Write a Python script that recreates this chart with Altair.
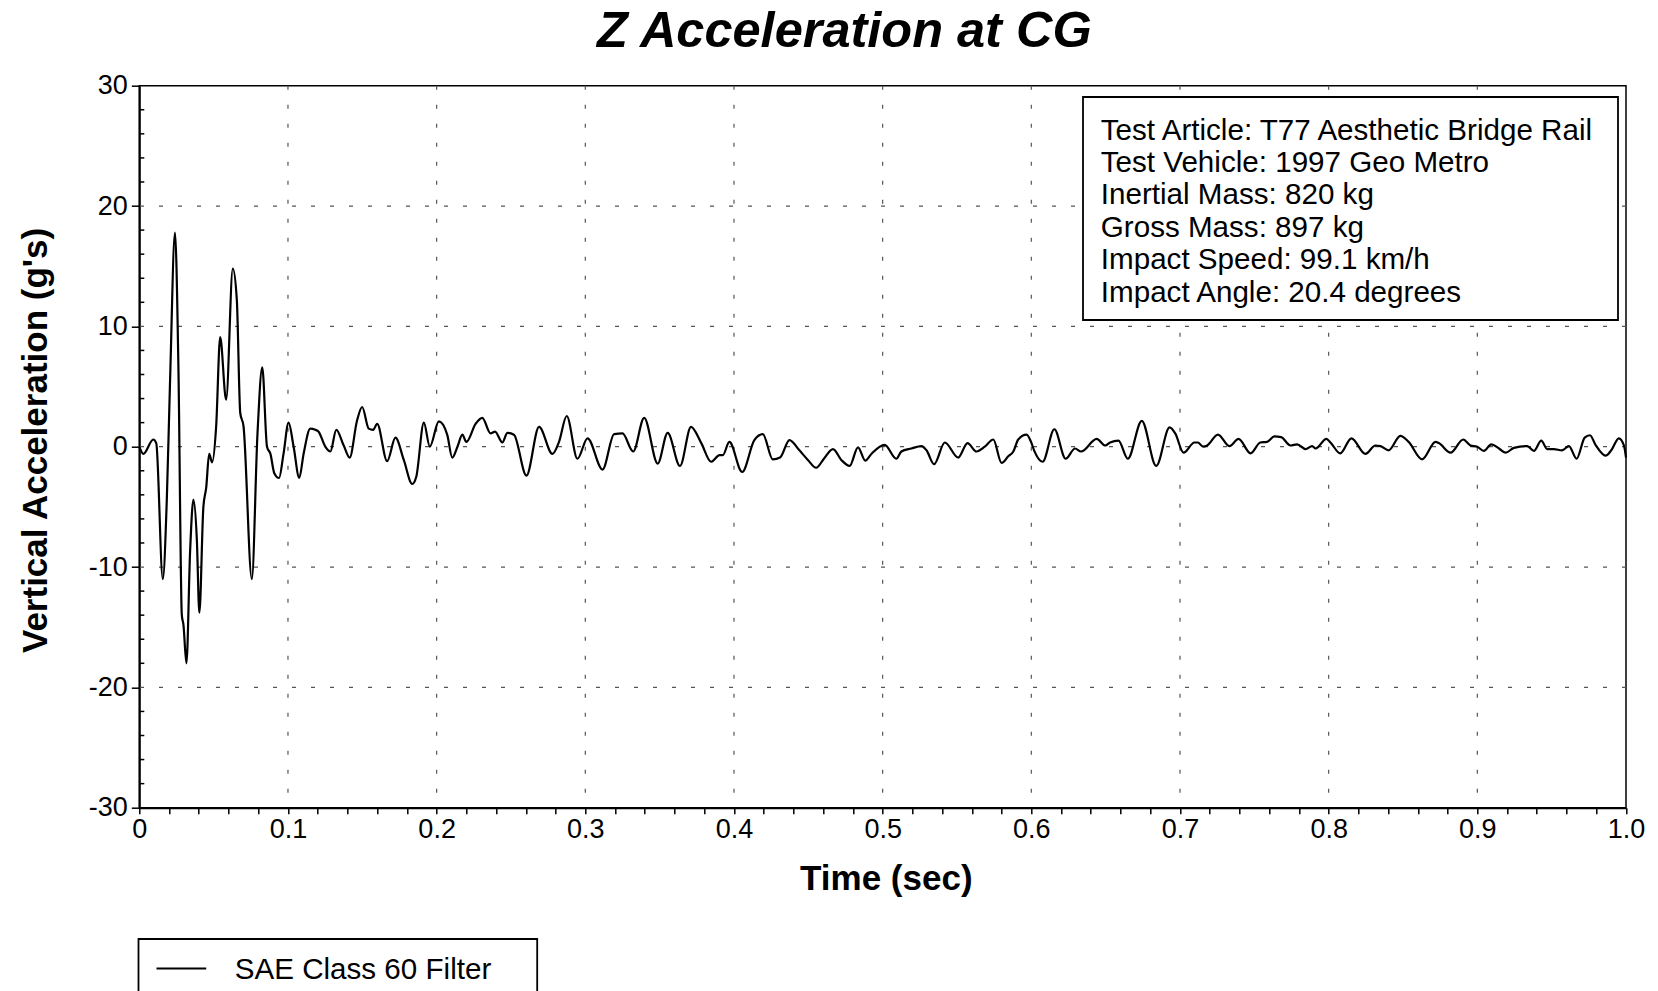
import altair as alt
import pandas as pd

# ---------------- data ----------------
time_s = [
    0.0000, 0.0027, 0.0094, 0.0114, 0.0158, 0.0185, 0.0207, 0.0240, 0.0263, 0.0286,
    0.0297, 0.0317, 0.0342, 0.0364, 0.0387, 0.0404, 0.0431, 0.0450, 0.0470, 0.0490,
    0.0517, 0.0544, 0.0584, 0.0629, 0.0656, 0.0679, 0.0701, 0.0757, 0.0795, 0.0827,
    0.0859, 0.0882, 0.0908, 0.0940, 0.0970, 0.1004, 0.1038, 0.1076, 0.1105, 0.1150,
    0.1184, 0.1206, 0.1251, 0.1285, 0.1325, 0.1375, 0.1415, 0.1465, 0.1499, 0.1543,
    0.1573, 0.1600, 0.1667, 0.1723, 0.1779, 0.1836, 0.1863, 0.1914, 0.1954, 0.2015,
    0.2071, 0.2105, 0.2140, 0.2173, 0.2200, 0.2262, 0.2307, 0.2363, 0.2393, 0.2442,
    0.2476, 0.2520, 0.2604, 0.2689, 0.2779, 0.2823, 0.2875, 0.2947, 0.3015, 0.3116,
    0.3194, 0.3250, 0.3322, 0.3396, 0.3487, 0.3554, 0.3637, 0.3711, 0.3780, 0.3846,
    0.3903, 0.3925, 0.3969, 0.4055, 0.4137, 0.4194, 0.4261, 0.4310, 0.4373, 0.4440,
    0.4497, 0.4553, 0.4605, 0.4666, 0.4722, 0.4778, 0.4834, 0.4883, 0.4924, 0.5013,
    0.5092, 0.5126, 0.5193, 0.5261, 0.5295, 0.5346, 0.5418, 0.5508, 0.5571, 0.5631,
    0.5687, 0.5744, 0.5800, 0.5845, 0.5879, 0.5912, 0.5968, 0.5998, 0.6020, 0.6076,
    0.6155, 0.6231, 0.6294, 0.6335, 0.6440, 0.6497, 0.6530, 0.6586, 0.6649, 0.6743,
    0.6840, 0.6930, 0.6968, 0.7024, 0.7097, 0.7120, 0.7156, 0.7183, 0.7255, 0.7333,
    0.7394, 0.7475, 0.7540, 0.7585, 0.7635, 0.7680, 0.7743, 0.7788, 0.7844, 0.7889,
    0.7912, 0.7985, 0.8012, 0.8078, 0.8153, 0.8247, 0.8314, 0.8348, 0.8404, 0.8482,
    0.8538, 0.8629, 0.8719, 0.8741, 0.8820, 0.8905, 0.8954, 0.8999, 0.9044, 0.9094,
    0.9146, 0.9190, 0.9246, 0.9336, 0.9381, 0.9430, 0.9470, 0.9515, 0.9570, 0.9616,
    0.9668, 0.9722, 0.9758, 0.9795, 0.9863, 0.9901, 0.9952, 0.9986, 1.0000,
]
accel_g = [
    0.0, -0.6, 0.6, 0.3, -11.0, -4.4, 5.5, 17.8, 6.7, -14.0,
    -14.8, -18.0, -8.6, -4.4, -7.7, -13.8, -5.0, -3.4, -0.6, -1.3,
    1.7, 9.1, 3.9, 14.8, 12.2, 2.8, 1.7, -11.0, 1.1, 6.6,
    0.0, -0.6, -2.2, -2.6, -0.6, 2.0, 0.0, -2.6, -0.6, 1.5,
    1.4, 1.25, 0.0, -0.4, 1.4, 0.1, -0.9, 2.2, 3.3, 1.5,
    1.4, 1.9, -1.2, 0.75, -1.1, -3.1, -2.5, 2.0, 0.0, 2.1,
    1.0, -0.9, 0.0, 1.0, 0.4, 1.9, 2.4, 1.1, 1.25, 0.35,
    1.15, 1.0, -2.4, 1.65, -0.6, 0.4, 2.55, -1.0, 0.7, -1.9,
    1.05, 1.1, -0.4, 2.4, -1.4, 1.15, -1.6, 1.65, 0.3, -1.25,
    -0.7, -0.7, 0.4, -2.1, 0.55, 1.05, -1.05, -0.9, 0.55, -0.3,
    -1.1, -1.75, -1.0, -0.2, -1.1, -1.6, -0.05, -1.15, -0.6, 0.15,
    -1.0, -0.4, -0.15, 0.05, -0.3, -1.45, 0.35, -0.9, 0.3, -0.4,
    0.0, 0.6, -1.35, -0.8, -0.4, 0.6, 1.0, 0.4, -0.35, -1.25,
    1.45, -1.0, -0.15, -0.4, 0.65, 0.1, 0.35, 0.5, -1.0, 2.15,
    -1.6, 1.6, 1.1, -0.5, 0.35, 0.35, 0.0, 0.1, 1.0, 0.05,
    0.65, -0.55, 0.35, 0.4, 0.85, 0.8, 0.1, 0.2, -0.2, 0.05,
    -0.15, 0.65, 0.35, -0.55, 0.7, -0.6, 0.1, 0.05, -0.3, 0.9,
    0.4, -1.05, 0.4, 0.3, -0.5, 0.6, 0.1, 0.0, -0.35, 0.2,
    -0.15, -0.5, -0.1, 0.05, -0.35, 0.5, -0.2, -0.2, -0.3, 0.05,
    -1.0, 0.75, 0.95, 0.15, -0.75, -0.3, 0.7, 0.1, -0.9,
]

x_major = [0.1, 0.2, 0.3, 0.4, 0.5, 0.6, 0.7, 0.8, 0.9]
x_ticks = [round(i * 0.02, 2) for i in range(51)]
y_major = [-30, -20, -10, 0, 10, 20, 30]
y_grid = [-20, -10, 0, 10, 20]
y_minor = [v for v in range(-28, 30, 2) if v % 10 != 0]

title_text = "Z Acceleration at CG"
x_title = "Time (sec)"
y_title = "Vertical Acceleration (g's)"
info_lines = [
    "Test Article: T77 Aesthetic Bridge Rail",
    "Test Vehicle: 1997 Geo Metro",
    "Inertial Mass: 820 kg",
    "Gross Mass: 897 kg",
    "Impact Speed: 99.1 km/h",
    "Impact Angle: 20.4 degrees",
]
legend_label = "SAE Class 60 Filter"

# ---------------- layout ----------------
W, H = 1486.7, 722
FONT = "Liberation Sans"

df = pd.DataFrame({"t": time_s, "v": accel_g})
gx = pd.DataFrame({"t": x_major})
gy = pd.DataFrame({"v": y_grid})
my = pd.DataFrame({"v": y_minor})

xscale = alt.Scale(domain=[0, 1], nice=False, zero=False)
yscale = alt.Scale(domain=[-30, 30], nice=False, zero=False)

label_expr = ("abs(datum.value*10 - round(datum.value*10)) < 0.001 ? "
              "(datum.value == 0 ? '0' : format(datum.value, '.1f')) : ''")
xaxis = alt.Axis(title="", values=x_ticks, labelExpr=label_expr, grid=False,
                 labelFont=FONT, labelFontSize=27, labelColor="black",
                 labelFlush=False, labelOverlap=False, labelBound=False,
                 labelPadding=3, tickSize=6, tickColor="black", tickWidth=1.5,
                 domainColor="black", domainWidth=2)
yaxis = alt.Axis(title="", values=y_major, grid=False, labelExpr="'' + datum.value",
                 labelFont=FONT, labelFontSize=27, labelColor="black",
                 labelFlush=False, labelOverlap=False, labelBound=False,
                 labelPadding=4, tickSize=8, tickColor="black", tickWidth=1.5,
                 domainColor="black", domainWidth=2)


def X(f):
    return alt.X(f, type="quantitative", scale=xscale, axis=xaxis)


def Y(f):
    return alt.Y(f, type="quantitative", scale=yscale, axis=yaxis)


grid_v = alt.Chart(gx).mark_rule(color="#555", strokeWidth=1.2, strokeDash=[4, 15]).encode(x=X("t"))
grid_h = alt.Chart(gy).mark_rule(color="#555", strokeWidth=1.2, strokeDash=[4, 15]).encode(y=Y("v"))
minor_y = alt.Chart(my).mark_rule(color="black", strokeWidth=1.5).encode(
    y=Y("v"), x=alt.value(0), x2=alt.value(5))

line = alt.Chart(df).mark_line(color="black", strokeWidth=2.2, interpolate="monotone").encode(
    x=X("t"), y=Y("v"))

info_box = alt.Chart().mark_rect(fill="white", stroke="black", strokeWidth=1.8).encode(
    x=alt.value(943.7), x2=alt.value(1478.7), y=alt.value(11.3), y2=alt.value(234.3))
info_text = alt.Chart().mark_text(
    text=info_lines, font=FONT, fontSize=29.6, lineHeight=32.4, align="left",
    baseline="alphabetic", color="black").encode(x=alt.value(961.5), y=alt.value(53.8))

title = alt.Chart().mark_text(
    text=title_text, font=FONT, fontSize=50.5, fontWeight="bold", fontStyle="italic",
    align="center", baseline="alphabetic", color="black").encode(
    x=alt.value(705), y=alt.value(-38.5))
xt = alt.Chart().mark_text(
    text=x_title, font=FONT, fontSize=35, fontWeight="bold", align="center",
    baseline="alphabetic", color="black").encode(x=alt.value(747), y=alt.value(804.3))
yt = alt.Chart().mark_text(
    text=y_title, font=FONT, fontSize=35, fontWeight="bold", align="center",
    baseline="alphabetic", angle=270, color="black").encode(
    x=alt.value(-92.3), y=alt.value(354.7))

leg_box = alt.Chart().mark_rect(fill="white", stroke="black", strokeWidth=1.8).encode(
    x=alt.value(-0.8), x2=alt.value(397.9), y=alt.value(853.3), y2=alt.value(940))
leg_line = alt.Chart().mark_rule(color="black", strokeWidth=2).encode(
    x=alt.value(17.2), x2=alt.value(66.9), y=alt.value(882.9))
leg_text = alt.Chart().mark_text(
    text=legend_label, font=FONT, fontSize=29.6, align="left", baseline="alphabetic",
    color="black").encode(x=alt.value(95.4), y=alt.value(893))

chart = alt.layer(
    grid_v, grid_h, minor_y, line, info_box, info_text, title, xt, yt,
    leg_box, leg_line, leg_text,
).properties(
    width=W, height=H,
    autosize=alt.AutoSizeParams(type="none"),
    padding={"left": 131.3, "top": 77.7, "right": 20, "bottom": 183.3},
    background="white",
).configure_view(stroke="black", strokeWidth=1.5)

chart.save("out.html", embed_options={"renderer": "svg", "actions": False})
